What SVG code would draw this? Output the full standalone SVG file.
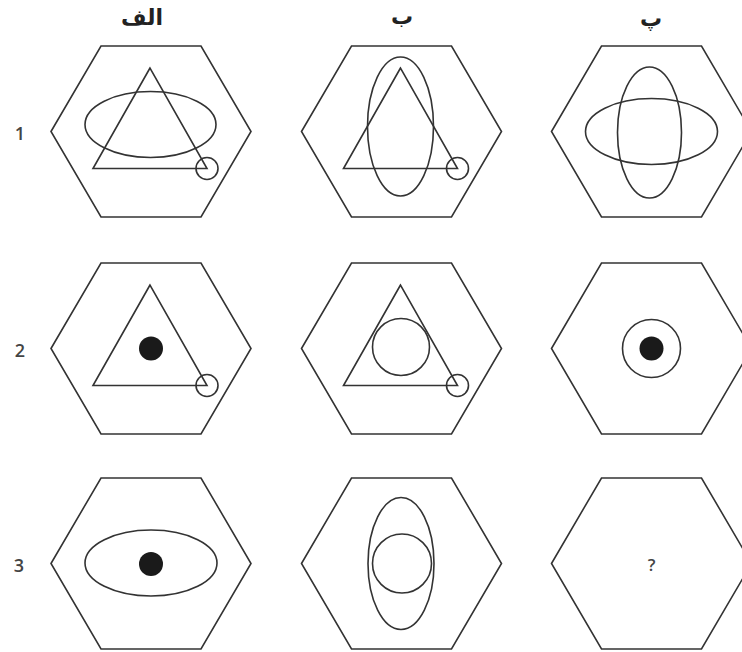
<svg xmlns="http://www.w3.org/2000/svg" xmlns:xlink="http://www.w3.org/1999/xlink" width="742" height="652" viewBox="0 0 742 652">
<style>
.s{fill:none;stroke:#333;stroke-width:1.6}
.d{fill:#1a1a1a;stroke:none}
.hdr{font-family:"DejaVu Sans",sans-serif;font-weight:bold;font-size:22px;fill:#222;text-anchor:middle}
.num{font-family:"Open Sans","Liberation Sans",sans-serif;font-size:18px;font-weight:600;fill:#444;text-anchor:middle}
</style>
<defs>
<polygon id="hex" class="s" points="-100,0 -50,-85.5 50,-85.5 100,0 50,85.5 -50,85.5"/>
<g id="tri">
<polygon class="s" points="-1,-63.5 -58,37 56,37"/>
<circle class="s" cx="56" cy="37" r="11"/>
</g>
</defs>
<rect width="742" height="652" fill="#fff"/>
<g id="headers">
<text class="hdr" x="142" y="25">الف</text>
<text class="hdr" x="402" y="24">ب</text>
<text class="hdr" x="651" y="26">پ</text>
</g>
<g id="rowlabels">
<text class="num" x="20" y="140">1</text>
<text class="num" x="20" y="357">2</text>
<text class="num" x="19" y="572">3</text>
</g>
<g id="r1c1" transform="translate(151,131.5)">
<use xlink:href="#hex"/>
<use xlink:href="#tri"/>
<ellipse class="s" cx="-0.5" cy="-7" rx="65.5" ry="33"/>
</g>
<g id="r1c2" transform="translate(401.5,131.5)">
<use xlink:href="#hex"/>
<use xlink:href="#tri"/>
<ellipse class="s" cx="-1" cy="-5" rx="33" ry="69.5"/>
</g>
<g id="r1c3" transform="translate(651.5,131.5)">
<use xlink:href="#hex"/>
<ellipse class="s" cx="-2" cy="1" rx="32" ry="65.5"/>
<ellipse class="s" cx="0" cy="0" rx="66" ry="33"/>
</g>
<g id="r2c1" transform="translate(151,348.5)">
<use xlink:href="#hex"/>
<use xlink:href="#tri"/>
<circle class="d" cx="0" cy="0" r="12"/>
</g>
<g id="r2c2" transform="translate(401.5,348.5)">
<use xlink:href="#hex"/>
<use xlink:href="#tri"/>
<circle class="s" cx="-0.5" cy="-1.5" r="28.5"/>
</g>
<g id="r2c3" transform="translate(651.5,348.5)">
<use xlink:href="#hex"/>
<circle class="s" cx="0" cy="0" r="29"/>
<circle class="d" cx="0" cy="0" r="12"/>
</g>
<g id="r3c1" transform="translate(151,563.5)">
<use xlink:href="#hex"/>
<ellipse class="s" cx="0" cy="-0.5" rx="66" ry="33"/>
<circle class="d" cx="0" cy="0.5" r="12"/>
</g>
<g id="r3c2" transform="translate(401.5,563.5)">
<use xlink:href="#hex"/>
<ellipse class="s" cx="-0.5" cy="0" rx="33" ry="66"/>
<circle class="s" cx="0.5" cy="0" r="29.5"/>
</g>
<g id="r3c3" transform="translate(651.5,563.5)">
<use xlink:href="#hex"/>
<text class="num" x="0" y="7" style="font-size:17px">?</text>
</g>
</svg>
